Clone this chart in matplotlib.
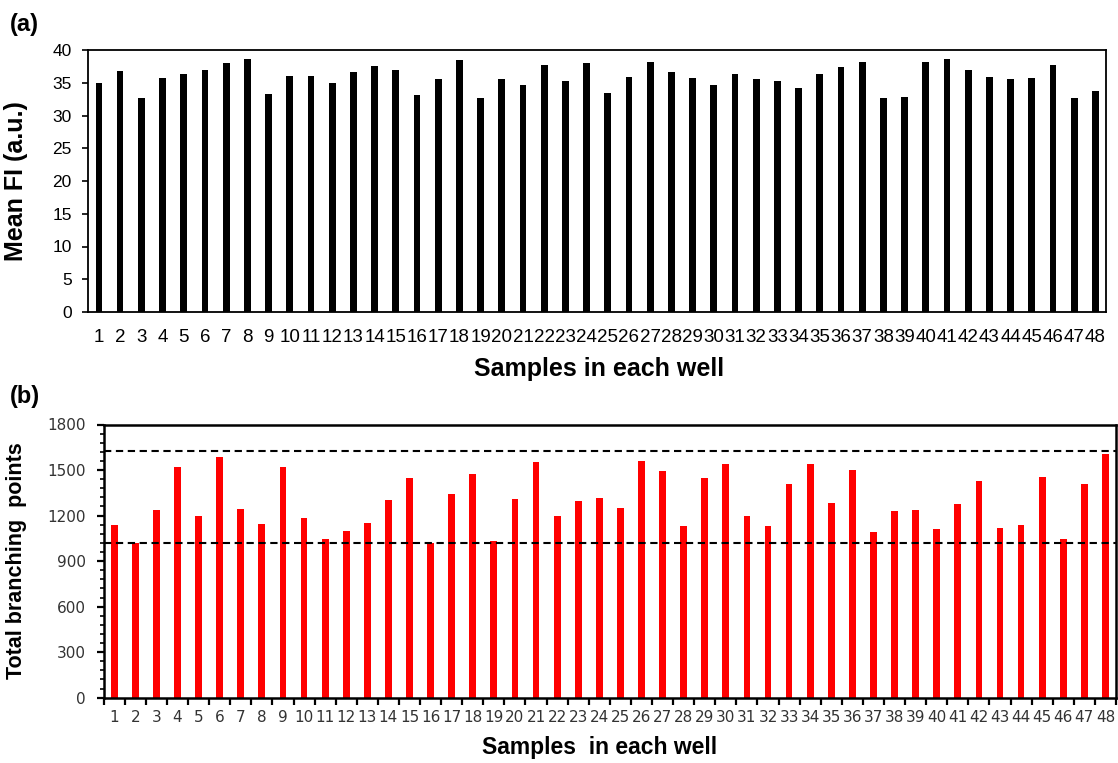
import matplotlib
matplotlib.use("Agg")
import matplotlib.pyplot as plt
from matplotlib.ticker import MultipleLocator, FixedLocator
import numpy as np

samples = list(range(1, 49))
sample_labels = [str(s) for s in samples]

mean_fi = [34.9, 36.8, 32.7, 35.7, 36.3, 37.0, 38.0, 38.7, 33.3, 36.1,
           36.1, 34.9, 36.7, 37.6, 37.0, 33.2, 35.6, 38.4, 32.7, 35.5,
           34.7, 37.7, 35.2, 38.0, 33.5, 35.9, 38.2, 36.7, 35.8, 34.7,
           36.4, 35.5, 35.3, 34.2, 36.4, 37.4, 38.2, 32.7, 32.9, 38.1,
           38.7, 36.9, 35.9, 35.6, 35.8, 37.7, 32.6, 33.8]

branching = [1139, 1022, 1234, 1519, 1194, 1585, 1240, 1146, 1519, 1181,
             1047, 1100, 1152, 1300, 1446, 1020, 1339, 1473, 1034, 1306,
             1552, 1194, 1293, 1319, 1247, 1558, 1492, 1128, 1446, 1538,
             1200, 1134, 1406, 1538, 1285, 1498, 1092, 1233, 1239, 1114,
             1278, 1425, 1120, 1140, 1452, 1046, 1406, 1605]

ref_lines = [1625, 1020]

W, H = 1118, 763
fig = plt.figure(figsize=(W / 100, H / 100), dpi=100)

arial = ["Liberation Sans", "DejaVu Sans"]

# ---------------- panel (a) ----------------
ax1 = fig.add_axes([88.3 / W, 1 - 312 / H, (1106 - 88.3) / W, (312 - 50) / H])
ax1.bar(samples, mean_fi, width=0.32, color="black")
ax1.set_xlim(0.5, 48.5)
ax1.set_ylim(0, 40)
ax1.yaxis.set_major_locator(MultipleLocator(5))
ax1.set_xticks(samples)
ax1.set_xticklabels(sample_labels, family=arial, fontsize=13.5)
for lab in ax1.get_yticklabels():
    lab.set_family(arial)
    lab.set_fontsize(12.5)
ax1.tick_params(axis="x", length=0, pad=12)
ax1.tick_params(axis="y", direction="out", length=4, width=1.2, pad=8)
for sp in ax1.spines.values():
    sp.set_linewidth(1.3)
ax1.set_ylabel("Mean FI (a.u.)", family=arial, fontsize=18, fontweight="bold")
ax1.yaxis.set_label_coords(-0.0597, 0.5)
ax1.set_xlabel("Samples in each well", family=arial, fontsize=18, fontweight="bold")
ax1.xaxis.set_label_coords(0.502, -0.17)

# ---------------- panel (b) ----------------
ax2 = fig.add_axes([103.7 / W, 1 - 697.7 / H, (1116 - 103.7) / W, (697.7 - 424.5) / H])
ax2.bar(samples, branching, width=0.32, color="#ff0000")
for yv in ref_lines:
    ax2.axhline(yv, color="black", lw=1.5, linestyle=(0, (3.5, 2.2)))
ax2.set_xlim(0.5, 48.5)
ax2.set_ylim(0, 1800)
ax2.yaxis.set_major_locator(MultipleLocator(300))
ax2.yaxis.set_minor_locator(MultipleLocator(60))
ax2.xaxis.set_major_locator(FixedLocator(np.arange(0.5, 49, 1.0)))
ax2.set_xticklabels([])
ax2.xaxis.set_minor_locator(FixedLocator(samples))
ax2.set_xticklabels(sample_labels, minor=True, fontsize=11, color="#333333",
                    family=["DejaVu Sans"])
ax2.tick_params(axis="x", which="major", direction="out", length=5, width=1.6)
ax2.tick_params(axis="x", which="minor", length=0, pad=9)
ax2.tick_params(axis="y", which="major", direction="out", length=5, width=1.6,
                pad=8, labelsize=11, labelcolor="#333333")
ax2.tick_params(axis="y", which="minor", direction="out", length=3, width=1.2)
for sp in ax2.spines.values():
    sp.set_linewidth(1.8)
ax2.set_ylabel("Total branching  points", family=arial, fontsize=15.5, fontweight="bold")
ax2.yaxis.set_label_coords(-0.0758, 0.5)
ax2.set_xlabel("Samples  in each well", family=arial, fontsize=16.5, fontweight="bold")
ax2.xaxis.set_label_coords(0.49, -0.14)

fig.text(10 / W, 1 - 24 / H, "(a)", family=arial, fontsize=17, fontweight="bold",
         ha="left", va="center")
fig.text(10 / W, 1 - 396 / H, "(b)", family=arial, fontsize=17, fontweight="bold",
         ha="left", va="center")

fig.savefig("out.png", dpi=100)
